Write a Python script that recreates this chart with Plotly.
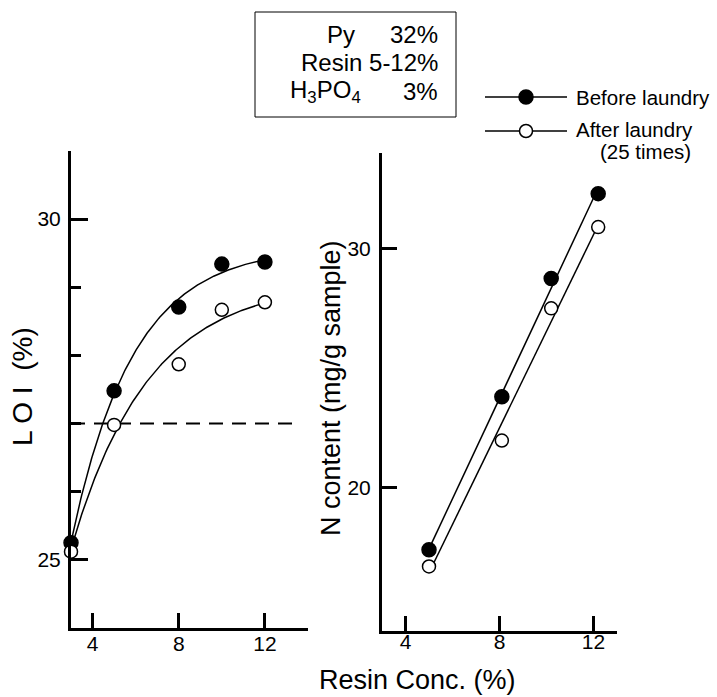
import numpy as np
import plotly.graph_objects as go

# ---------------- data ----------------
loi_conc = [3, 5, 8, 10, 12]
loi_before = [25.25, 27.48, 28.71, 29.34, 29.37]
loi_after = [25.12, 26.98, 27.87, 28.67, 28.78]
loi_threshold = 27
loi_threshold_span = [3, 13.4]

n_conc = [5, 8.1, 10.2, 12.2]
n_before = [17.4, 23.8, 28.75, 32.3]
n_after = [16.7, 21.97, 27.5, 30.9]

x_ticks = [4, 8, 12]
loi_ticks = [25, 30]
n_ticks = [20, 30]

series_names = ["Before laundry", "After laundry"]
series_note = "(25 times)"
box_labels = ["Py", "Resin", "H<sub>3</sub>PO<sub>4</sub>"]
box_values = ["32%", "5-12%", "3%"]

FONT = "Liberation Sans, Arial, Helvetica, sans-serif"
W, H = 717, 697


def px(x):
    return x / W


def py(y):
    return 1 - y / H


def sat_fit(x, y):
    """least-squares fit of y = a - b*exp(-k x) (grid search on k)."""
    x = np.asarray(x, float)
    y = np.asarray(y, float)
    best = None
    for k in np.linspace(0.02, 2.0, 991):
        A = np.column_stack([np.ones_like(x), -np.exp(-k * x)])
        coef, *_ = np.linalg.lstsq(A, y, rcond=None)
        err = np.sum((A @ coef - y) ** 2)
        if best is None or err < best[0]:
            best = (err, k, coef)
    _, k, (a, b) = best
    xs = np.linspace(x.min(), x.max(), 200)
    return xs, a - b * np.exp(-k * xs)


def lin_fit(x, y):
    m, c = np.polyfit(x, y, 1)
    xs = np.array([min(x), max(x)])
    return xs, m * xs + c


fig = go.Figure()

filled = dict(symbol="circle", size=14, color="black", line=dict(color="black", width=1.5))
opened = dict(symbol="circle", size=13, color="white", line=dict(color="black", width=1.5))
line_style = dict(color="black", width=1.5)

# ---- left panel: LOI ----
fig.add_trace(go.Scatter(x=list(loi_threshold_span), y=[loi_threshold] * 2, mode="lines",
                         line=dict(color="black", width=2, dash="14px,9px"),
                         xaxis="x", yaxis="y", hoverinfo="skip"))
for yv in (loi_before, loi_after):
    fx, fy = sat_fit(loi_conc, yv)
    fig.add_trace(go.Scatter(x=fx, y=fy, mode="lines", line=line_style, xaxis="x", yaxis="y"))
for yv, mk in ((loi_before, filled), (loi_after, opened)):
    fig.add_trace(go.Scatter(x=loi_conc, y=yv, mode="markers", marker=mk, xaxis="x", yaxis="y",
                             cliponaxis=False))

# ---- right panel: N content ----
for yv in (n_before, n_after):
    fx, fy = lin_fit(n_conc, yv)
    fig.add_trace(go.Scatter(x=fx, y=fy, mode="lines", line=line_style, xaxis="x2", yaxis="y2"))
for yv, mk in ((n_before, filled), (n_after, opened)):
    fig.add_trace(go.Scatter(x=n_conc, y=yv, mode="markers", marker=mk, xaxis="x2", yaxis="y2",
                             cliponaxis=False))

# ---- legend keys (drawn on a small hidden axis pair) ----
key_x = [0, 1]
key_mid = [0.5]
for row, mk in ((1, filled), (0, opened)):
    fig.add_trace(go.Scatter(x=key_x, y=[row, row], mode="lines", line=line_style,
                             xaxis="x3", yaxis="y3", hoverinfo="skip"))
    fig.add_trace(go.Scatter(x=key_mid, y=[row], mode="markers", marker=mk,
                             xaxis="x3", yaxis="y3", hoverinfo="skip", cliponaxis=False))

axis_common = dict(showline=True, linecolor="black", linewidth=3, showgrid=False, zeroline=False,
                   ticks="inside", tickcolor="black", tickwidth=3, mirror=False,
                   tickfont=dict(family=FONT, size=21, color="black"))

fig.update_layout(
    width=W, height=H,
    margin=dict(l=0, r=0, t=0, b=0),
    paper_bgcolor="white", plot_bgcolor="white",
    showlegend=False,
    font=dict(family=FONT, color="black"),
    xaxis=dict(domain=[px(71), px(308)], range=[3, 14], tickmode="array", tickvals=x_ticks,
               ticklen=15, anchor="y", ticklabelstandoff=-5, **axis_common),
    yaxis=dict(domain=[py(628), py(151)], range=[24, 31], tickmode="array", tickvals=loi_ticks,
               ticklen=17, anchor="x", ticklabelstandoff=3,
               minor=dict(tick0=24, dtick=1, ticks="inside", ticklen=10, tickwidth=3, tickcolor="black"),
               **axis_common),
    xaxis2=dict(domain=[px(382), px(617)], range=[3, 13], tickmode="array", tickvals=x_ticks,
                ticklen=15, anchor="y2", ticklabelstandoff=-10, **axis_common),
    yaxis2=dict(domain=[py(631), py(153)], range=[14, 34], tickmode="array", tickvals=n_ticks,
                ticklen=15, anchor="x2", ticklabelstandoff=4, **axis_common),
    xaxis3=dict(domain=[px(485), px(567)], range=[0, 1], visible=False, fixedrange=True, anchor="y3"),
    yaxis3=dict(domain=[py(148), py(80)], range=[-0.5, 1.5], visible=False, fixedrange=True, anchor="x3"),
)

ann = []


def text(t, x, y, size, xanchor="center", yanchor="middle", angle=0):
    ann.append(dict(text=t, x=px(x), y=py(y), xref="paper", yref="paper", showarrow=False,
                    xanchor=xanchor, yanchor=yanchor, textangle=angle,
                    font=dict(family=FONT, size=size, color="black")))


# axis titles
text("L O I  (%)", 23, 387, 28, angle=-90)
text("N content (mg/g sample)", 331, 388, 27, angle=-90)
text("Resin Conc. (%)", 417, 680, 27)

# info box
fig.add_shape(type="rect", xref="paper", yref="paper", x0=px(255), x1=px(456), y0=py(117), y1=py(12),
              line=dict(color="black", width=1), fillcolor="rgba(0,0,0,0)")
text(box_labels[0], 357, 35, 24, xanchor="right")
text(box_values[0], 440, 35, 24, xanchor="right")
text(box_labels[1] + " " + box_values[1], 440, 63, 24, xanchor="right")
text(box_labels[2], 363, 91, 24, xanchor="right")
text(box_values[2], 440, 91, 24, xanchor="right")

# legend labels
text(series_names[0], 574, 97, 20.5, xanchor="left")
text(series_names[1], 574, 129, 20.5, xanchor="left")
text(series_note, 598, 152, 20.5, xanchor="left")

fig.update_layout(annotations=ann)

fig.write_html("out.html")
